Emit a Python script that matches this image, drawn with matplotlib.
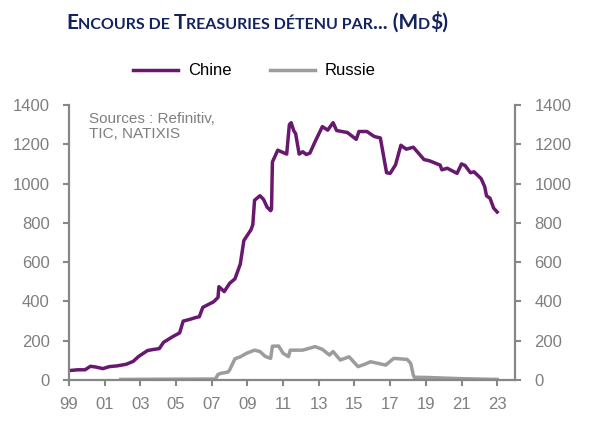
import matplotlib
matplotlib.use("Agg")
import matplotlib.pyplot as plt
from matplotlib.lines import Line2D

plt.rcParams['font.family'] = ['Liberation Sans', 'DejaVu Sans']

# Chine holdings (Md$)
china_t = [1999.0, 1999.5, 1999.9, 2000.2, 2000.5, 2000.9, 2001.25, 2001.7, 2002.2, 2002.6,
           2002.9, 2003.4, 2003.7, 2004.06, 2004.3, 2004.8, 2005.2, 2005.4, 2005.75, 2006.1,
           2006.3, 2006.5, 2007.1, 2007.35, 2007.4, 2007.7, 2008.0, 2008.3, 2008.6, 2008.8,
           2009.2, 2009.3, 2009.4, 2009.7, 2009.9, 2010.1, 2010.3, 2010.35, 2010.4, 2010.7,
           2011.2, 2011.35, 2011.45, 2011.6, 2011.7, 2011.9, 2012.1, 2012.3, 2012.5, 2012.8,
           2013.2, 2013.5, 2013.8, 2014.0, 2014.6, 2015.1, 2015.25, 2015.7, 2016.1, 2016.45,
           2016.8, 2017.0, 2017.3, 2017.6, 2017.9, 2018.3, 2018.9, 2019.2, 2019.8, 2019.9,
           2020.2, 2020.75, 2021.0, 2021.2, 2021.5, 2021.7, 2022.1, 2022.3, 2022.4, 2022.6,
           2022.8, 2023.0]
china_v = [48, 52, 52, 70, 66, 58, 68, 72, 80, 95,
           120, 150, 155, 160, 192, 220, 240, 300, 308, 318,
           322, 370, 398, 420, 475, 450, 492, 515, 590, 710,
           765, 790, 915, 938, 920, 880, 862, 870, 1110, 1170,
           1150, 1300, 1310, 1268, 1255, 1150, 1162, 1148, 1155, 1215,
           1290, 1272, 1310, 1270, 1260, 1225, 1265, 1265, 1240, 1232,
           1055, 1052, 1095, 1195, 1175, 1185, 1122, 1116, 1094, 1070,
           1078, 1052, 1100, 1092, 1055, 1060, 1025, 984, 938, 925,
           875, 855]

# Russie holdings (Md$)
russia_t = [2001.9, 2004.0, 2007.2, 2007.35, 2007.5, 2007.9, 2008.0, 2008.3, 2008.6, 2008.95,
            2009.2, 2009.4, 2009.7, 2010.0, 2010.3, 2010.4, 2010.75, 2011.0, 2011.3, 2011.4,
            2012.1, 2012.8, 2013.2, 2013.6, 2013.8, 2014.2, 2014.7, 2015.2, 2015.6, 2015.9,
            2016.3, 2016.75, 2017.2, 2017.95, 2018.15, 2018.3, 2018.35, 2019.05, 2020.9, 2023.0]
russia_v = [3, 4, 5, 28, 34, 40, 51, 108, 118, 136,
            145, 152, 145, 120, 110, 172, 173, 136, 119, 152,
            152, 170, 156, 127, 145, 102, 118, 68, 81, 93,
            85, 76, 110, 105, 85, 25, 14, 13, 7, 3]

tick_years = list(range(1999, 2024, 2))
tick_labels = ["%02d" % (y % 100) for y in tick_years]

purple = '#69186F'
grey_line = '#9C9C9C'
axis_grey = '#878787'
label_grey = '#7F7F7F'
navy = '#13235E'

fig = plt.figure(figsize=(5.92, 4.38), dpi=100)
ax = fig.add_axes([0.1166, 0.1324, 0.87 - 0.1166, 0.7603 - 0.1324])

ax.plot(russia_t, russia_v, color=grey_line, lw=2.5, solid_joinstyle='round')
ax.plot(china_t, china_v, color=purple, lw=2.5, solid_joinstyle='round')

ax.set_xlim(1999, 2024)
ax.set_ylim(0, 1400)
ax.set_xticks(tick_years)
ax.set_xticklabels(tick_labels)
ax.set_yticks(range(0, 1401, 200))

ax.spines['top'].set_visible(False)
for s in ['left', 'right', 'bottom']:
    ax.spines[s].set_color(axis_grey)
    ax.spines[s].set_linewidth(1.6)

ax.tick_params(axis='both', direction='out', length=4, width=1.5, color=axis_grey,
               labelcolor=label_grey, labelsize=12)
ax.tick_params(axis='y', pad=10, right=True, labelright=True)
ax.tick_params(axis='x', pad=8)

ax.text(0.045, 0.975, "Sources : Refinitiv,\nTIC, NATIXIS", transform=ax.transAxes,
        ha='left', va='top', fontsize=11, color=label_grey, linespacing=1.1)

# legend
handles = [Line2D([], [], color=purple, lw=2.5), Line2D([], [], color=grey_line, lw=2.5)]
fig.legend(handles, ['Chine', 'Russie'], loc='center', bbox_to_anchor=(0.43, 0.838),
           ncol=2, frameon=False, fontsize=12, handlelength=2.7, handletextpad=0.6,
           columnspacing=2.3)

# small caps title, built from pieces
pieces = [("E", 15), ("NCOURS DE ", 11.5), ("T", 15), ("REASURIES DÉTENU PAR", 11.5),
          ("... (M", 15), ("D", 11.5), ("$)", 15)]
renderer = fig.canvas.get_renderer()
texts = []
widths = []
for s, fs in pieces:
    t = fig.text(0, 1 - 29 / 438, s, fontsize=fs, fontweight='bold', color=navy,
                 family=['Lato', 'DejaVu Sans'], ha='left', va='baseline')
    texts.append(t)
    widths.append(t.get_window_extent(renderer).width)
total = sum(widths)
x0 = 257 - total / 2
for t, w in zip(texts, widths):
    t.set_x(x0 / 592)
    x0 += w

fig.savefig('out.png', dpi=100)
